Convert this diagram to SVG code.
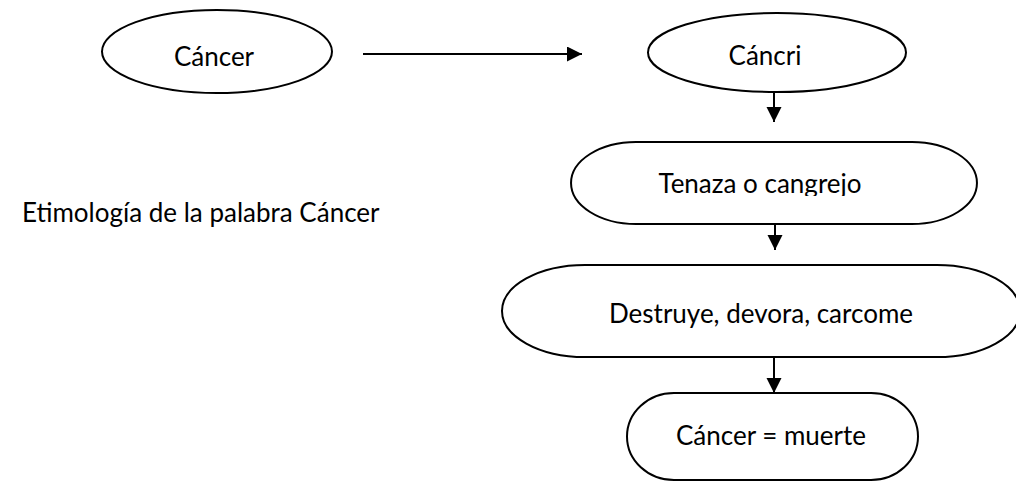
<svg xmlns="http://www.w3.org/2000/svg" width="1016" height="483" viewBox="0 0 1016 483">
<style>
.s{fill:#fff;stroke:#000;stroke-width:2}
.t{font-family:Lato,"Open Sans","Liberation Sans",sans-serif;font-size:26px;fill:#000;text-anchor:middle}
.c{stroke:#000;stroke-width:2;fill:none}
</style>
<defs>
<marker id="a" markerWidth="16" markerHeight="16" refX="15" refY="7.5" orient="auto" markerUnits="userSpaceOnUse">
<path d="M0,0 L15,7.5 L0,15 Z" fill="#000"/>
</marker>
<clipPath id="tc"><rect x="560" y="140" width="430" height="56"/></clipPath>
</defs>
<rect width="1016" height="483" fill="#fff"/>
<g id="connectors">
<line class="c" x1="363" y1="54" x2="582" y2="54" marker-end="url(#a)"/>
<line class="c" x1="774" y1="92" x2="774" y2="122" marker-end="url(#a)"/>
<line class="c" x1="775" y1="224" x2="775" y2="250" marker-end="url(#a)"/>
<line class="c" x1="774" y1="357" x2="774" y2="393" marker-end="url(#a)"/>
</g>
<g id="n1">
<ellipse class="s" cx="217" cy="51.5" rx="115" ry="41.5"/>
<text class="t" x="214" y="66">Cáncer</text>
</g>
<g id="n2">
<ellipse class="s" cx="777" cy="52.5" rx="129" ry="39.5"/>
<text class="t" x="765" y="65">Cáncri</text>
</g>
<g id="n3">
<path class="s" d="M636,142 L912,142 A65,41 0 0 1 912,224 L636,224 A65,41 0 0 1 636,142 Z"/>
<text class="t" x="760" y="193" clip-path="url(#tc)">Tenaza o cangrejo</text>
</g>
<g id="n4">
<path class="s" d="M585,265 L937,265 A83,46 0 0 1 937,357 L585,357 A83,46 0 0 1 585,265 Z"/>
<text class="t" x="761" y="323">Destruye, devora, carcome</text>
</g>
<g id="n5">
<path class="s" d="M674,393 L871,393 A47,43.5 0 0 1 871,480 L674,480 A47,43.5 0 0 1 674,393 Z"/>
<text class="t" x="771" y="445">Cáncer = muerte</text>
</g>
<g id="label">
<text class="t" x="22" y="222" style="text-anchor:start">Etimología de la palabra Cáncer</text>
</g>
</svg>
